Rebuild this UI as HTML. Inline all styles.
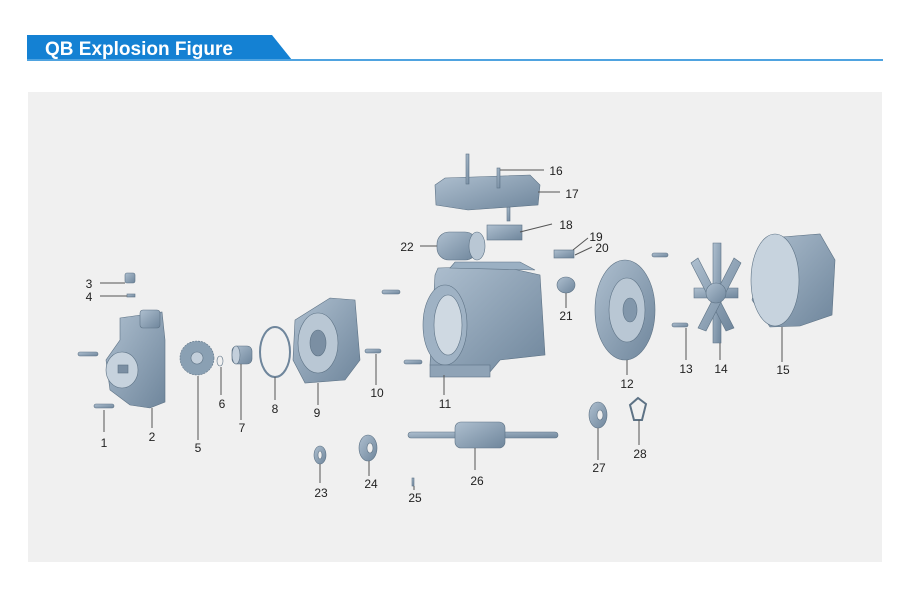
<!DOCTYPE html>
<html><head><meta charset="utf-8"><style>
html,body{margin:0;padding:0;background:#fff;width:900px;height:610px;overflow:hidden}
svg text{font-family:"Liberation Sans",sans-serif}
</style></head><body>
<svg width="900" height="610" viewBox="0 0 900 610" xmlns="http://www.w3.org/2000/svg">
<defs>
<linearGradient id="m" x1="0" y1="0" x2="1" y2="1"><stop offset="0" stop-color="#aebfcf"/><stop offset="1" stop-color="#6f869c"/></linearGradient>
<linearGradient id="d" x1="0" y1="0" x2="1" y2="0"><stop offset="0" stop-color="#6c8298"/><stop offset="1" stop-color="#9fb2c4"/></linearGradient>
</defs>
<polygon points="27,35 272,35 292,60 27,60" fill="#1481d3"/>
<rect x="27" y="59" width="856" height="2" fill="#4fa3e0"/>
<text x="45" y="55" font-size="19" font-weight="bold" fill="#fff">QB Explosion Figure</text>
<rect x="28" y="92" width="854" height="470" fill="#f0f0f0"/>
<g fill="url(#m)" stroke="#5d7285" stroke-width="0.6">
<!-- 3,4 -->
<rect x="125" y="273" width="10" height="10" rx="2"/><rect x="127" y="294" width="8" height="3"/>
<!-- 1 bolts -->
<rect x="78" y="352" width="20" height="4" rx="2"/><rect x="94" y="404" width="20" height="4" rx="2"/>
<!-- 2 pump body -->
<path d="M120,318 L162,312 L165,340 L165,402 L150,408 L130,405 L110,390 L106,360 L120,340 Z"/>
<ellipse cx="122" cy="370" rx="16" ry="18" fill="#c6d2dd"/><rect x="118" y="365" width="10" height="8" fill="#7b8fa3"/>
<rect x="140" y="310" width="20" height="18" rx="3"/>
<!-- 5 impeller -->
<circle cx="197" cy="358" r="17" fill="#8aa0b3" stroke-dasharray="2 1"/><circle cx="197" cy="358" r="6" fill="#c3cfdb"/>
<!-- 6 -->
<ellipse cx="220" cy="361" rx="3" ry="5" fill="none"/>
<!-- 7 -->
<rect x="232" y="346" width="20" height="18" rx="5"/><ellipse cx="236" cy="355" rx="4" ry="9" fill="#c3cfdb"/>
<!-- 8 O ring -->
<ellipse cx="275" cy="352" rx="15" ry="25" fill="none" stroke="#6f869c" stroke-width="2"/>
<!-- 9 -->
<path d="M295,320 L330,298 L355,300 L360,360 L345,380 L305,383 L293,360 Z"/>
<ellipse cx="318" cy="343" rx="20" ry="30" fill="#b9c7d4"/><ellipse cx="318" cy="343" rx="8" ry="13" fill="#7b8fa3"/>
<!-- 10 -->
<rect x="365" y="349" width="16" height="4" rx="2"/>
<rect x="382" y="290" width="18" height="4" rx="2"/><rect x="404" y="360" width="18" height="4" rx="2"/>
<!-- 11 motor -->
<path d="M435,275 L438,268 L500,266 L540,275 L545,355 L500,360 L490,372 L440,375 L430,365 Z"/>
<path d="M450,268 L455,262 L520,262 L535,270 Z" fill="#9bb0c3"/>
<ellipse cx="445" cy="325" rx="22" ry="40" fill="#9fb2c4"/><ellipse cx="448" cy="325" rx="14" ry="30" fill="#cfd9e2"/>
<rect x="430" y="365" width="60" height="12" fill="#8fa3b6"/>
<!-- 22 capacitor -->
<rect x="437" y="232" width="40" height="28" rx="12"/><ellipse cx="477" cy="246" rx="8" ry="14" fill="#b9c7d4"/>
<!-- 18 -->
<rect x="487" y="225" width="35" height="15"/><rect x="507" y="207" width="3" height="14"/>
<!-- 17 cover -->
<path d="M435,185 L445,178 L530,175 L540,185 L538,205 L468,210 L436,205 Z"/>
<rect x="466" y="154" width="3" height="30"/><rect x="497" y="168" width="3" height="20"/>
<!-- 19 20 21 -->
<rect x="554" y="250" width="20" height="8"/>
<ellipse cx="566" cy="285" rx="9" ry="8"/>
<!-- 12 end cover -->
<ellipse cx="625" cy="310" rx="30" ry="50"/><ellipse cx="627" cy="310" rx="18" ry="32" fill="#b9c7d4"/><ellipse cx="630" cy="310" rx="7" ry="12" fill="#8297ab"/>
<rect x="652" y="253" width="16" height="4" rx="2"/><rect x="672" y="323" width="16" height="4" rx="2"/>
<!-- 14 fan -->
<g transform="translate(716,293)">
<path d="M-3,-50 L5,-50 L5,50 L-3,50 Z"/><path d="M-22,-5 L22,-5 L22,5 L-22,5 Z"/>
<path d="M-18,-35 L18,35 L10,38 L-25,-30 Z"/><path d="M18,-35 L-18,35 L-10,38 L25,-30 Z"/>
<circle r="10"/></g>
<!-- 15 fan cover -->
<path d="M770,238 L820,234 L835,260 L832,315 L800,326 L770,327 L752,300 Z"/>
<ellipse cx="775" cy="280" rx="24" ry="46" fill="#c7d3de"/>
<!-- 23,24,25 -->
<ellipse cx="320" cy="455" rx="6" ry="9"/><ellipse cx="320" cy="455" rx="2" ry="4" fill="#eee"/>
<ellipse cx="368" cy="448" rx="9" ry="13"/><ellipse cx="370" cy="448" rx="3" ry="5" fill="#eee"/>
<rect x="412" y="478" width="2" height="8"/>
<!-- 26 rotor -->
<rect x="408" y="432" width="150" height="6" rx="3"/>
<rect x="455" y="422" width="50" height="26" rx="6"/>
<!-- 27 28 -->
<ellipse cx="598" cy="415" rx="9" ry="13"/><ellipse cx="600" cy="415" rx="3" ry="5" fill="#eee"/>
<path d="M630,405 L638,398 L646,404 L642,420 L634,420 Z" fill="none" stroke-width="2"/>
</g>
<g stroke="#555" stroke-width="1" fill="none">
<path d="M104,410 V432"/><path d="M152,408 V428"/><path d="M198,376 V440"/><path d="M221,367 V395"/>
<path d="M241,364 V420"/><path d="M275,377 V400"/><path d="M318,383 V405"/><path d="M376,354 V385"/>
<path d="M444,375 V395"/><path d="M627,360 V375"/><path d="M686,328 V360"/><path d="M720,343 V360"/>
<path d="M782,327 V362"/><path d="M320,464 V483"/><path d="M369,461 V476"/><path d="M414,486 V490"/>
<path d="M475,448 V470"/><path d="M598,428 V460"/><path d="M639,420 V445"/>
<path d="M500,170 H544"/><path d="M538,192 H560"/><path d="M520,232 L552,224"/><path d="M573,250 L588,238"/>
<path d="M575,255 L592,247"/><path d="M566,293 V308"/><path d="M420,246 H437"/>
<path d="M100,283 H125"/><path d="M100,296 H127"/>
</g>
<g font-size="12" fill="#222" text-anchor="middle">
<text x="104" y="447">1</text><text x="152" y="441">2</text><text x="89" y="288">3</text><text x="89" y="301">4</text>
<text x="198" y="452">5</text><text x="222" y="408">6</text><text x="242" y="432">7</text><text x="275" y="413">8</text>
<text x="317" y="417">9</text><text x="377" y="397">10</text><text x="445" y="408">11</text><text x="627" y="388">12</text>
<text x="686" y="373">13</text><text x="721" y="373">14</text><text x="783" y="374">15</text><text x="556" y="175">16</text>
<text x="572" y="198">17</text><text x="566" y="229">18</text><text x="596" y="241">19</text><text x="602" y="252">20</text>
<text x="566" y="320">21</text><text x="407" y="251">22</text><text x="321" y="497">23</text><text x="371" y="488">24</text>
<text x="415" y="502">25</text><text x="477" y="485">26</text><text x="599" y="472">27</text><text x="640" y="458">28</text>
</g>
</svg>
</body></html>
